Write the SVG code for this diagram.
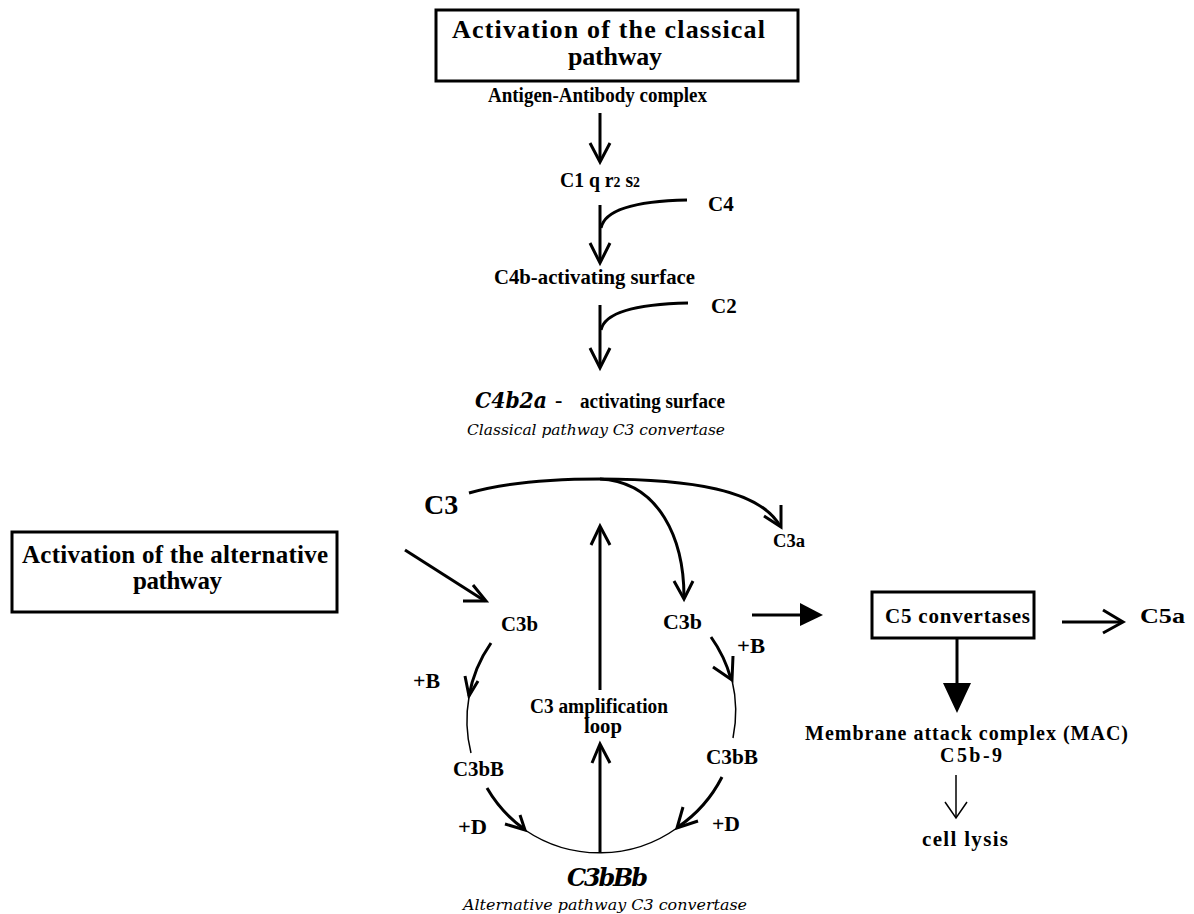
<svg xmlns="http://www.w3.org/2000/svg" width="1194" height="914" viewBox="0 0 1194 914">
<style>
text{font-family:"Liberation Serif","Times New Roman",serif;fill:#000}
.b{font-weight:bold}
.it{font-style:italic;font-family:"DejaVu Serif","Liberation Serif",serif}
.box{fill:none;stroke:#000;stroke-width:3}
.ln{fill:none;stroke:#000;stroke-width:3;stroke-linecap:butt}
.th{fill:none;stroke:#000;stroke-width:1.5}
.ah{fill:none;stroke:#000;stroke-width:3;stroke-linejoin:miter}
.ahs{fill:none;stroke:#000;stroke-width:1.5}
.tri{fill:#000;stroke:none}
</style>
<rect width="1194" height="914" fill="#fff"/>

<g id="classical">
<rect class="box" x="436" y="10" width="362" height="71"/>
<text class="b" x="452" y="38" font-size="26" textLength="313" lengthAdjust="spacing">Activation of the classical</text>
<text class="b" x="568" y="65" font-size="26" textLength="94" lengthAdjust="spacing">pathway</text>
</g>
<g id="antigen"><text class="b" x="488" y="102" font-size="20" textLength="219" lengthAdjust="spacingAndGlyphs">Antigen-Antibody complex</text></g>
<g id="c1"><text class="b" x="560" y="187" font-size="20" textLength="80" lengthAdjust="spacingAndGlyphs">C1 q r<tspan font-size="14">2</tspan> s<tspan font-size="14">2</tspan></text></g>
<g id="c4"><text class="b" x="708" y="211" font-size="21">C4</text></g>
<g id="c4b"><text class="b" x="494" y="284" font-size="21" textLength="201" lengthAdjust="spacingAndGlyphs">C4b-activating surface</text></g>
<g id="c2"><text class="b" x="711" y="313" font-size="21">C2</text></g>
<g id="c4b2a">
<text class="b it" x="475" y="408" font-size="23" textLength="72" lengthAdjust="spacingAndGlyphs">C4b2a</text>
<text class="b" x="555" y="407" font-size="22">-</text>
<text class="b" x="580" y="408" font-size="20" textLength="145" lengthAdjust="spacingAndGlyphs">activating surface</text>
<text class="it" x="467" y="435" font-size="15" textLength="258" lengthAdjust="spacingAndGlyphs">Classical pathway C3 convertase</text>
</g>
<g id="c3"><text class="b" x="424" y="514" font-size="28">C3</text></g>
<g id="c3a"><text class="b" x="773" y="547" font-size="18" textLength="32" lengthAdjust="spacingAndGlyphs">C3a</text></g>
<g id="alternative">
<rect class="box" x="12" y="532" width="325" height="80"/>
<text class="b" x="22" y="563" font-size="25" textLength="306" lengthAdjust="spacing">Activation of the alternative</text>
<text class="b" x="133" y="589" font-size="25" textLength="89" lengthAdjust="spacing">pathway</text>
</g>
<g id="c3b-left"><text class="b" x="501" y="631" font-size="21" textLength="37" lengthAdjust="spacingAndGlyphs">C3b</text></g>
<g id="c3b-right"><text class="b" x="663" y="629" font-size="21" textLength="39" lengthAdjust="spacingAndGlyphs">C3b</text></g>
<g id="plusB-left"><text class="b" x="413" y="688" font-size="20" textLength="27" lengthAdjust="spacingAndGlyphs">+B</text></g>
<g id="plusB-right"><text class="b" x="737" y="653" font-size="20" textLength="28" lengthAdjust="spacingAndGlyphs">+B</text></g>
<g id="c3bB-left"><text class="b" x="453" y="776" font-size="21" textLength="51" lengthAdjust="spacingAndGlyphs">C3bB</text></g>
<g id="c3bB-right"><text class="b" x="706" y="764" font-size="21" textLength="52" lengthAdjust="spacingAndGlyphs">C3bB</text></g>
<g id="plusD-left"><text class="b" x="458" y="834" font-size="20" textLength="29" lengthAdjust="spacingAndGlyphs">+D</text></g>
<g id="plusD-right"><text class="b" x="712" y="831" font-size="20" textLength="28" lengthAdjust="spacingAndGlyphs">+D</text></g>
<g id="loop">
<text class="b" x="530" y="713" font-size="20" textLength="138" lengthAdjust="spacingAndGlyphs">C3 amplification</text>
<text class="b" x="584" y="733" font-size="20" textLength="38" lengthAdjust="spacingAndGlyphs">loop</text>
</g>
<g id="c3bBb">
<text class="b it" x="567" y="886" font-size="24" textLength="81" lengthAdjust="spacing">C3bBb</text>
<text class="it" x="463" y="910" font-size="15" textLength="284" lengthAdjust="spacingAndGlyphs">Alternative pathway C3 convertase</text>
</g>
<g id="c5conv">
<rect class="box" x="872" y="592" width="162" height="46"/>
<text class="b" x="885" y="623" font-size="21" textLength="145" lengthAdjust="spacing">C5 convertases</text>
</g>
<g id="c5a"><text class="b" x="1140" y="623" font-size="22" textLength="45" lengthAdjust="spacingAndGlyphs">C5a</text></g>
<g id="mac">
<text class="b" x="805" y="740" font-size="20" textLength="323" lengthAdjust="spacing">Membrane attack complex (MAC)</text>
<text class="b" x="940" y="762" font-size="20" textLength="62" lengthAdjust="spacing">C5b-9</text>
</g>
<g id="lysis"><text class="b" x="922" y="846" font-size="21" textLength="86" lengthAdjust="spacing">cell lysis</text></g>

<g id="connectors">
<line class="ln" x1="600" y1="113" x2="600" y2="161"/>
<polyline class="ah" points="590,143 600,162 610,143"/>
<line class="ln" x1="600" y1="205" x2="600" y2="262"/>
<path class="ln" d="M687,200 C640,201 605,208 601,228"/>
<polyline class="ah" points="590,243 600,263 610,243"/>
<line class="ln" x1="600" y1="305" x2="600" y2="366"/>
<path class="ln" d="M688,303 C640,304 605,311 601,330"/>
<polyline class="ah" points="590,348 600,368 610,348"/>

<path class="ln" d="M469,493 C510,481 560,479 600,479 C690,479 760,490 780,526"/>
<polyline class="ah" points="781,505 781,527 764,516"/>
<path class="ln" d="M600,479 C660,482 684,540 684,597"/>
<polyline class="ah" points="674,581 684,599 693,581"/>

<line class="ln" x1="405" y1="550" x2="485" y2="601"/>
<polyline class="ah" points="463,601 486,601 473,585"/>

<line class="ln" x1="600" y1="690" x2="600" y2="528"/>
<polyline class="ah" points="591,545 600,526 610,545"/>
<line class="ln" x1="600" y1="852" x2="600" y2="746"/>
<polyline class="ah" points="592,763 600,744 610,763"/>

<path class="ln" d="M491,643 A133,133 0 0,0 469,696"/>
<polyline class="ah" points="465,676 469,696 478,681"/>
<path class="th" d="M469,697 A133,133 0 0,0 471,753"/>
<path class="ln" d="M487,788 A133,133 0 0,0 524,829"/>
<polyline class="ah" points="505,824 525,830 520,815"/>
<path class="th" d="M525,830 A133,133 0 0,0 677,828"/>
<path class="ln" d="M722,777 A134,134 0 0,1 678,827"/>
<polyline class="ah" points="698,821 677,828 683,807"/>
<path class="ln" d="M711,637 A134,134 0 0,1 731,679"/>
<polyline class="ah" points="713,667 732,680 733,656"/>
<path class="th" d="M732,680 A134,134 0 0,1 733,738"/>

<line class="ln" x1="752" y1="615" x2="801" y2="615"/>
<polygon class="tri" points="800,603 823,615 800,626"/>
<line class="ln" x1="1062" y1="622" x2="1120" y2="622"/>
<polyline class="ah" points="1103,610 1123,622 1103,633"/>
<line class="ln" x1="957" y1="638" x2="957" y2="684" stroke-width="3.5"/>
<polygon class="tri" points="943,683 971,683 957,713"/>
<line class="th" x1="956" y1="775" x2="956" y2="817"/>
<polyline class="ahs" points="945,802 956,818 967,802"/>
</g>
</svg>
